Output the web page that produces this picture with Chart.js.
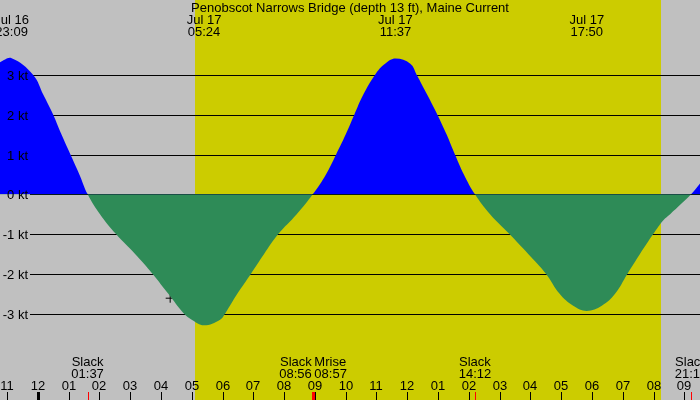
<!DOCTYPE html>
<html>
<head>
<meta charset="utf-8">
<script src="https://cdn.jsdelivr.net/npm/chart.js@4/dist/chart.umd.min.js"></script>
<style>
  html, body { margin: 0; padding: 0; background: #c0c0c0; }
  #wrap { width: 700px; height: 400px; }
</style>
</head>
<body>
<div id="wrap"><canvas id="tide-chart" width="700" height="400"></canvas></div>
<script>
// hours counted from Jul 16 00:00
const flowHours = [22.77, 23.15, 23.85, 24.18, 24.5, 24.77, 25.06, 25.35, 25.62, 26.02, 26.54, 27.16, 27.73, 28.24, 28.75, 29.0,
  29.4, 29.92, 30.08, 30.48, 30.92, 31.35, 31.81, 32.41, 32.93, 33.36, 33.69, 34.0, 34.28, 34.57, 34.95, 35.28,
  35.62, 36.1, 36.31, 36.65, 36.98, 37.28, 37.55, 37.84, 38.2, 38.69, 39.32, 39.93, 40.51, 40.95, 41.39,
  41.83, 42.32, 42.75, 43.15, 43.56, 43.99, 44.32, 44.54, 45.22, 45.51];
const flowKnots = [3.32, 3.42, 3.0, 2.5, 2.0, 1.5, 1.0, 0.5, 0, -0.5, -1.0, -1.5, -2.0, -2.5, -3.0, -3.15,
  -3.29, -3.15, -3.0, -2.5, -2.0, -1.5, -1.0, -0.5, 0, 0.5, 1.0, 1.5, 2.0, 2.5, 3.0, 3.28,
  3.41, 3.28, 3.0, 2.5, 2.0, 1.5, 1.0, 0.5, 0, -0.5, -1.0, -1.5, -2.0, -2.5, -2.8,
  -2.93, -2.8, -2.5, -2.0, -1.5, -1.0, -0.65, -0.5, 0, 0.27];

const levelKnots = [3, 2, 1, 0, -1, -2, -3];
const levelLabels = ['3 kt', '2 kt', '1 kt', '0 kt', '-1 kt', '-2 kt', '-3 kt'];

const hourTicks = [23, 24, 25, 26, 27, 28, 29, 30, 31, 32, 33, 34, 35, 36, 37, 38, 39, 40, 41, 42, 43, 44, 45];
const hourLabels = ['11', '12', '01', '02', '03', '04', '05', '06', '07', '08', '09', '10',
  '11', '12', '01', '02', '03', '04', '05', '06', '07', '08', '09'];

const peakHours = [23.15, 29.4, 35.617, 41.833];
const peakDates = ['Jul 16', 'Jul 17', 'Jul 17', 'Jul 17'];
const peakTimes = ['23:09', '05:24', '11:37', '17:50'];

const slackHours = [25.617, 32.933, 38.2, 45.217];
const slackTimes = ['01:37', '08:56', '14:12', '21:13'];

const moonriseHour = 32.95;
const moonriseTime = '08:57';

const sunriseHour = 29.1;
const sunsetHour = 44.24;

const markHour = 28.3;
const markKnots = -2.61;

const title = 'Penobscot Narrows Bridge (depth 13 ft), Maine Current';

const FONT = '13px "Liberation Sans", Arial, sans-serif';
const NIGHT = '#c0c0c0';
const DAY = '#cccc00';

const backdrop = {
  id: 'backdrop',
  beforeDraw(chart) {
    const { ctx, scales: { x } } = chart;
    ctx.save();
    ctx.fillStyle = NIGHT;
    ctx.fillRect(0, 0, chart.width, chart.height);
    const x0 = Math.round(x.getPixelForValue(sunriseHour));
    const x1 = Math.round(x.getPixelForValue(sunsetHour));
    ctx.fillStyle = DAY;
    ctx.fillRect(x0, 0, x1 - x0, chart.height);
    ctx.restore();
  },
  beforeDatasetsDraw(chart) {
    const { ctx, scales: { y } } = chart;
    ctx.save();
    ctx.strokeStyle = '#000';
    ctx.lineWidth = 1;
    levelKnots.forEach(k => {
      const py = Math.round(y.getPixelForValue(k)) + 0.5;
      ctx.beginPath();
      ctx.moveTo(30, py);
      ctx.lineTo(chart.width, py);
      ctx.stroke();
    });
    ctx.restore();
  },
};

const labels = {
  id: 'labels',
  afterDraw(chart) {
    const { ctx, scales: { x, y } } = chart;
    ctx.save();
    ctx.font = FONT;
    ctx.fillStyle = '#000';
    ctx.textBaseline = 'alphabetic';

    // level labels
    ctx.textAlign = 'right';
    levelKnots.forEach((k, i) => {
      ctx.fillText(levelLabels[i], 28, Math.round(y.getPixelForValue(k)) + 5);
    });

    // title and extremes
    ctx.textAlign = 'center';
    ctx.fillText(title, 350, 12);
    peakHours.forEach((h, i) => {
      const px = x.getPixelForValue(h);
      ctx.fillText(peakDates[i], px, 24);
      ctx.fillText(peakTimes[i], px, 36);
    });

    // slack and moonrise
    const events = slackHours.map((h, i) => ({ h, name: 'Slack', time: slackTimes[i] }));
    events.push({ h: moonriseHour, name: 'Mrise', time: moonriseTime });
    events.sort((a, b) => a.h - b.h);
    events.forEach((ev, i) => {
      const px = x.getPixelForValue(ev.h);
      let align = 'center', tx = px;
      if (events[i + 1] && events[i + 1].h - ev.h < 1) { align = 'right'; tx = px - 1; }
      if (events[i - 1] && ev.h - events[i - 1].h < 1) { align = 'left'; tx = px + 1; }
      ctx.textAlign = align;
      ctx.fillText(ev.name, tx, 366);
      ctx.fillText(ev.time, tx, 378);
    });

    // hour ticks
    ctx.textAlign = 'center';
    hourTicks.forEach((h, i) => {
      const px = Math.round(x.getPixelForValue(h));
      ctx.fillText(hourLabels[i], px, 390);
      const w = h % 24 === 0 ? 3 : 1;
      ctx.fillRect(px - Math.floor(w / 2), 392, w, 8);
    });
    ctx.fillStyle = '#ff0000';
    slackHours.forEach(h => {
      const px = Math.round(x.getPixelForValue(h));
      ctx.fillRect(px, 392, 1, 8);
    });
    const mx = Math.round(x.getPixelForValue(moonriseHour));
    ctx.fillRect(mx - 1, 392, 3, 8);
    ctx.restore();
  },
};

new Chart(document.getElementById('tide-chart'), {
  data: {
    datasets: [
      {
        type: 'line',
        data: flowHours.map((h, i) => ({ x: h, y: flowKnots[i] })),
        borderColor: 'rgba(0,0,0,0)',
        borderWidth: 1,
        pointRadius: 0,
        tension: 0.4,
        fill: { target: 'origin', above: '#0000ff', below: '#2e8b57' },
      },
      {
        type: 'scatter',
        data: [{ x: markHour, y: markKnots }],
        pointStyle: 'cross',
        pointRadius: 4.5,
        borderColor: '#000',
        backgroundColor: '#000',
        borderWidth: 1,
      },
    ],
  },
  options: {
    responsive: false,
    animation: false,
    events: [],
    layout: { padding: 0, autoPadding: false },
    plugins: { legend: { display: false }, tooltip: { enabled: false } },
    scales: {
      x: { type: 'linear', min: 22.772, max: 45.51, display: false },
      y: { type: 'linear', min: -5.168, max: 4.882, display: false },
    },
  },
  plugins: [backdrop, labels],
});
</script>
</body>
</html>
